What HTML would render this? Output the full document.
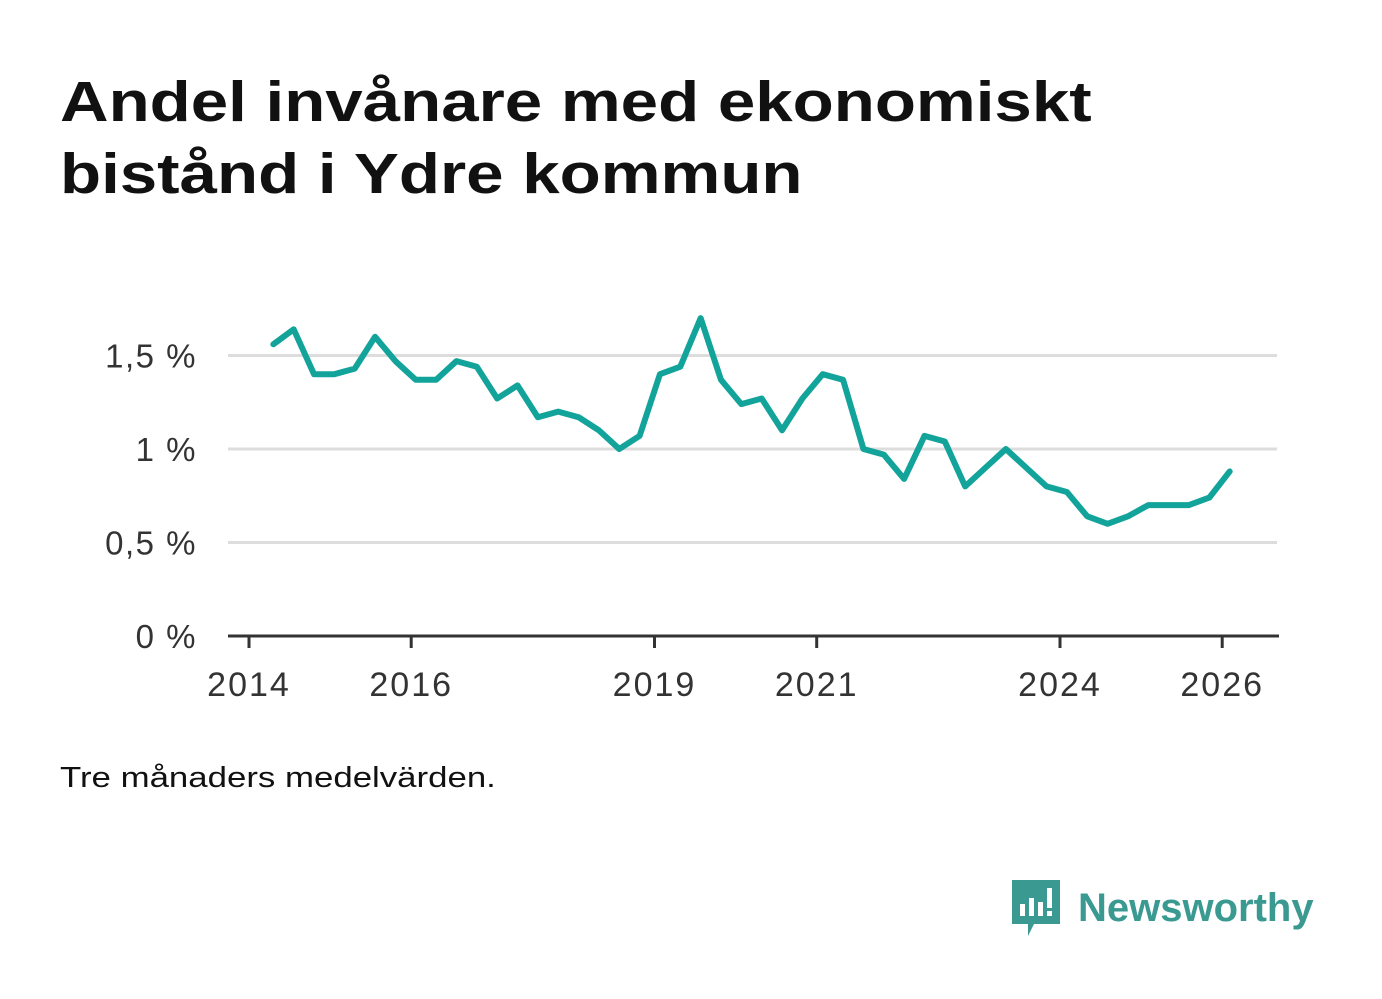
<!DOCTYPE html>
<html><head><meta charset="utf-8"><style>
body{margin:0;width:1382px;height:999px;background:#fff;font-family:"Liberation Sans",sans-serif;overflow:hidden;position:relative}
h1{position:absolute;left:60px;top:66px;margin:0;font-size:57px;line-height:72px;font-weight:bold;color:#111;transform:scaleX(1.18);transform-origin:left top;white-space:nowrap}
.note{position:absolute;left:60px;top:762px;font-size:29px;color:#111;transform:scaleX(1.2);transform-origin:left top;white-space:nowrap}
.logo{position:absolute;left:1010px;top:878px;display:flex;align-items:center}
.logo span{font-size:40px;font-weight:bold;color:#3a9a92;margin-left:16px}
</style></head><body>
<h1>Andel invånare med ekonomiskt<br>bistånd i Ydre kommun</h1>
<svg id="chart" width="1382" height="999" style="position:absolute;left:0;top:0"></svg>
<div class="note">Tre månaders medelvärden.</div>
<div class="logo">
<svg width="52" height="60"><path d="M2 2h48v44H24l-6 12v-12H2z" fill="#3a9a92"/><rect x="10" y="26" width="5" height="12" fill="#fff"/><rect x="19" y="20" width="5" height="18" fill="#fff"/><rect x="28" y="24" width="5" height="14" fill="#fff"/><rect x="37" y="10" width="5" height="20" fill="#fff"/><rect x="37" y="33" width="5" height="5" fill="#fff"/></svg>
<span>Newsworthy</span></div>
<script>
const values=[1.56,1.64,1.40,1.40,1.43,1.60,1.47,1.37,1.37,1.47,1.44,1.27,1.34,1.17,1.20,1.17,1.10,1.00,1.07,1.40,1.44,1.70,1.37,1.24,1.27,1.10,1.27,1.40,1.37,1.00,0.97,0.84,1.07,1.04,0.80,0.90,1.00,0.90,0.80,0.77,0.64,0.60,0.64,0.70,0.70,0.70,0.74,0.88];
const startYear=2014.3;
const stepYears=0.2509;
const yTicks=[0,0.5,1,1.5];
const yTickLabels=["0 %","0,5 %","1 %","1,5 %"];
const xTicks=[2014,2016,2019,2021,2024,2026];
const NS="http://www.w3.org/2000/svg";
const svg=document.getElementById('chart');
const x=v=>249+(v-2014)*81.1;
const y=v=>636-v*187;
function mk(t,a){const e=document.createElementNS(NS,t);for(const k in a)e.setAttribute(k,a[k]);svg.appendChild(e);return e;}
yTicks.forEach((t,i)=>{
 if(t>0){const g=mk('line',{x1:228,x2:1277,y1:y(t),y2:y(t),stroke:'#ddd','stroke-width':3});
 
 }
 const l=mk('text',{x:197,y:y(t)+12,'text-anchor':'end','font-size':33,'letter-spacing':1.5,fill:'#333','font-family':'Liberation Sans, sans-serif'});
 
 
 l.textContent=yTickLabels[i];
});
const ax=mk('line',{x1:228,x2:1279,y1:636,y2:636,stroke:'#333','stroke-width':3});


xTicks.forEach(t=>{
 const tk=mk('line',{x1:x(t),x2:x(t),y1:636,y2:648,stroke:'#333','stroke-width':3});
 
 
 const l=mk('text',{x:x(t),y:696,'text-anchor':'middle','font-size':34,'letter-spacing':2,fill:'#333','font-family':'Liberation Sans, sans-serif'});
 
 
 l.textContent=t;
});
const pts=values.map((v,i)=>x(startYear+i*stepYears)+','+y(v)).join(' ');
const line=mk('polyline',{points:pts,fill:'none',stroke:'#12a39a','stroke-width':6,'stroke-linejoin':'round','stroke-linecap':'round'});


</script>
</body></html>
